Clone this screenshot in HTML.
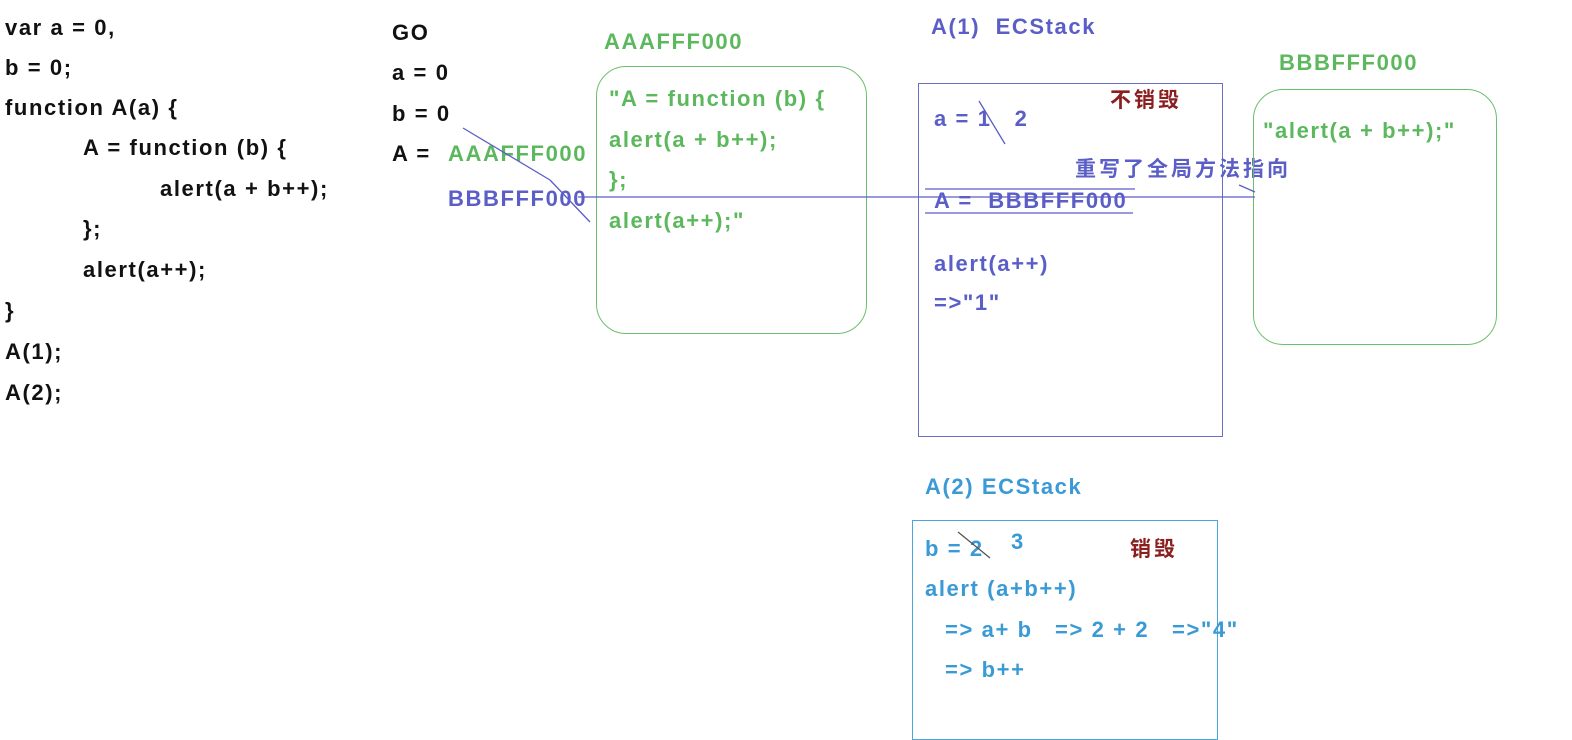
<!DOCTYPE html>
<html><head><meta charset="utf-8"><style>
body{margin:0;width:1572px;height:724px;background:#fff;position:relative;overflow:hidden;font-family:"Liberation Sans","Noto Sans CJK SC",sans-serif;font-weight:bold;font-size:22px;letter-spacing:1.6px}
.t{position:absolute;line-height:24px;white-space:pre}
.k{color:#111}.g{color:#5cb85c}.b{color:#5a5ec6}.c{color:#3a9ad6}.r{color:#8b1f1f}
.box{position:absolute;box-sizing:border-box}
.z{font-family:"Noto Sans CJK SC",sans-serif;font-size:21px;letter-spacing:3px}
</style></head><body>
<div class="t k" style="left:5px;top:16px">var a = 0,</div>
<div class="t k" style="left:5px;top:56px">b = 0;</div>
<div class="t k" style="left:5px;top:96px">function A(a) {</div>
<div class="t k" style="left:83px;top:136px">A = function (b) {</div>
<div class="t k" style="left:160px;top:177px">alert(a + b++);</div>
<div class="t k" style="left:83px;top:217px">};</div>
<div class="t k" style="left:83px;top:258px">alert(a++);</div>
<div class="t k" style="left:5px;top:299px">}</div>
<div class="t k" style="left:5px;top:340px">A(1);</div>
<div class="t k" style="left:5px;top:381px">A(2);</div>

<div class="t k" style="left:392px;top:21px">GO</div>
<div class="t k" style="left:392px;top:61px">a = 0</div>
<div class="t k" style="left:392px;top:102px">b = 0</div>
<div class="t k" style="left:392px;top:142px">A = </div>
<div class="t g" style="left:448px;top:142px">AAAFFF000</div>
<div class="t b" style="left:448px;top:187px">BBBFFF000</div>

<div class="t g" style="left:604px;top:30px">AAAFFF000</div>
<div class="box" style="left:596px;top:66px;width:271px;height:268px;border:1.5px solid #6cc06c;border-radius:30px"></div>
<div class="t g" style="left:609px;top:87px">"A = function (b) {</div>
<div class="t g" style="left:609px;top:128px">alert(a + b++);</div>
<div class="t g" style="left:609px;top:168px">};</div>
<div class="t g" style="left:609px;top:209px">alert(a++);"</div>

<div class="t b" style="left:931px;top:15px">A(1)  ECStack</div>
<div class="box" style="left:918px;top:83px;width:305px;height:354px;border:1.5px solid #6a6ec8"></div>
<div class="t r z" style="left:1110px;top:87px">不销毁</div>
<div class="t b" style="left:934px;top:107px">a = 1   2</div>
<div class="t b z" style="left:1075px;top:156px">重写了全局方法指向</div>
<div class="t b" style="left:934px;top:189px">A =  BBBFFF000</div>
<div class="t b" style="left:934px;top:252px">alert(a++)</div>
<div class="t b" style="left:934px;top:291px">=&gt;"1"</div>

<div class="t g" style="left:1279px;top:51px">BBBFFF000</div>
<div class="box" style="left:1253px;top:89px;width:244px;height:256px;border:1.5px solid #6cc06c;border-radius:30px"></div>
<div class="t g" style="left:1263px;top:119px">"alert(a + b++);"</div>

<div class="t c" style="left:925px;top:475px">A(2) ECStack</div>
<div class="box" style="left:912px;top:520px;width:306px;height:220px;border:1.5px solid #4aa6dc"></div>
<div class="t c" style="left:925px;top:537px">b = 2</div>
<div class="t c" style="left:1011px;top:530px">3</div>
<div class="t r z" style="left:1130px;top:536px">销毁</div>
<div class="t c" style="left:925px;top:577px">alert (a+b++)</div>
<div class="t c" style="left:945px;top:618px">=&gt; a+ b</div>
<div class="t c" style="left:1055px;top:618px">=&gt; 2 + 2</div>
<div class="t c" style="left:1172px;top:618px">=&gt;"4"</div>
<div class="t c" style="left:945px;top:658px">=&gt; b++</div>

<svg width="1572" height="724" style="position:absolute;left:0;top:0">
<g stroke="#5a5ec6" stroke-width="1.3" fill="none">
<line x1="463" y1="128" x2="550" y2="180"/>
<line x1="550" y1="180" x2="590" y2="222"/>
<line x1="578" y1="197" x2="1255" y2="197"/>
<line x1="925" y1="189" x2="1135" y2="189"/>
<line x1="925" y1="213" x2="1133" y2="213"/>
<line x1="979" y1="101" x2="1005" y2="144"/>
<line x1="1239" y1="185" x2="1255" y2="192"/>
<line x1="958" y1="532" x2="990" y2="558" stroke="#555"/>
</g>
</svg>
</body></html>
